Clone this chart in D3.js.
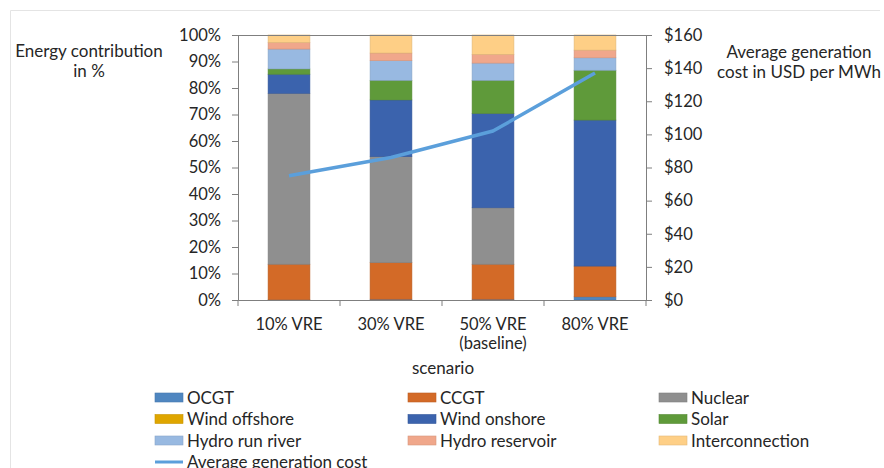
<!DOCTYPE html>
<html>
<head>
<meta charset="utf-8">
<script src="https://cdn.jsdelivr.net/npm/d3@7/dist/d3.min.js"></script>
<style>
  body { margin: 0; background: #fff; }
  svg { display: block; font-family: Lato, "Open Sans", sans-serif; }
</style>
</head>
<body>
<svg id="chart" width="884" height="468"></svg>
<script>
const categories = ["10% VRE", "30% VRE", "50% VRE\n(baseline)", "80% VRE"];
const seriesNames = ["OCGT", "CCGT", "Nuclear", "Wind offshore", "Wind onshore", "Solar", "Hydro run river", "Hydro reservoir", "Interconnection"];
const OCGT = [0.1, 0.3, 0.3, 1.2];
const CCGT = [13.4, 13.8, 13.2, 11.6];
const Nuclear = [64.5, 40.0, 21.3, 0];
const WindOffshore = [0, 0, 0, 0];
const WindOnshore = [7.2, 21.4, 35.6, 55.1];
const Solar = [2.0, 7.4, 12.5, 18.8];
const HydroRunRiver = [7.5, 7.4, 6.5, 4.7];
const HydroReservoir = [2.5, 2.9, 3.3, 2.9];
const Interconnection = [2.8, 6.8, 7.3, 5.7];
const avgCost = [75, 86, 102, 137];
const leftTicks = [0, 10, 20, 30, 40, 50, 60, 70, 80, 90, 100];
const rightTicks = [0, 20, 40, 60, 80, 100, 120, 140, 160];

const seriesValues = [OCGT, CCGT, Nuclear, WindOffshore, WindOnshore, Solar, HydroRunRiver, HydroReservoir, Interconnection];
const colors = ["#4F86C0", "#D36A27", "#8F8F8F", "#DFA600", "#3B63AD", "#5F9A3A", "#98B9E1", "#F0A78B", "#FECF86"];
const lineColor = "#5B9FDB";

(function () {
const svg = d3.select("#chart");
const pl = 238, pr = 646, pt = 35, pb = 300;
const axisColor = "#7f7f7f";
const textColor = "#262626";
const tickFont = "16.5px";
const titleFont = "17px";

svg.append("path")
  .attr("d", `M10.5,468 V10.5 H880`)
  .attr("fill", "none").attr("stroke", "#e4e4e4").attr("stroke-width", 1);

const x = d3.scaleBand().domain(categories).range([pl, pr]).paddingInner(0.59).paddingOuter(0.295);
const xOuter = d3.scaleBand().domain(categories).range([pl, pr]);
const y = d3.scaleLinear().domain([0, 100]).range([pb, pt]);
const y2 = d3.scaleLinear().domain([0, 160]).range([pb, pt]);

const table = categories.map((c, i) => {
  const row = { cat: c };
  seriesNames.forEach((s, j) => row[s] = seriesValues[j][i]);
  return row;
});
const stack = d3.stack().keys(seriesNames)(table);

const g = svg.append("g");
stack.forEach((layer, j) => {
  g.selectAll(null).data(layer.filter(d => d[1] - d[0] > 0)).enter().append("rect")
    .attr("x", d => x(d.data.cat))
    .attr("width", x.bandwidth())
    .attr("y", d => y(d[1]))
    .attr("height", d => Math.max(0, y(d[0]) - y(d[1])))
    .attr("fill", colors[j])
    .attr("stroke", d3.color(colors[j]).darker(0.35))
    .attr("stroke-width", 0.6);
});

svg.append("line").attr("x1", pl).attr("x2", pr).attr("y1", pt + 0.5).attr("y2", pt + 0.5)
  .attr("stroke", axisColor).attr("stroke-width", 1);

const la = svg.append("g").attr("transform", `translate(${pl},0)`)
  .call(d3.axisLeft(y).tickValues(leftTicks).tickFormat(d => d + "%").tickSize(6).tickPadding(11));
const ra = svg.append("g").attr("transform", `translate(${pr},0)`)
  .call(d3.axisRight(y2).tickValues(rightTicks).tickFormat(d => "$" + d).tickSize(6).tickPadding(12));
const ba = svg.append("g").attr("transform", `translate(0,${pb})`)
  .call(d3.axisBottom(xOuter).tickValues([]).tickSize(0));
const bTicks = categories.map(c => xOuter(c)).concat([pr]);
ba.selectAll(".bt").data(bTicks).enter().append("line")
  .attr("x1", d => d).attr("x2", d => d).attr("y1", 0).attr("y2", 6)
  .attr("stroke", axisColor);

[la, ra, ba].forEach(a => {
  a.selectAll("path.domain").attr("stroke", axisColor);
  a.selectAll(".tick line").attr("stroke", axisColor);
  a.selectAll("text").attr("fill", textColor).style("font-size", tickFont).style("font-family", "Lato, sans-serif");
});

categories.forEach(c => {
  const lines = c.split("\n");
  const cx = xOuter(c) + xOuter.bandwidth() / 2;
  const t = svg.append("text").attr("x", cx).attr("y", 330)
    .attr("text-anchor", "middle").attr("fill", textColor).style("font-size", tickFont);
  lines.forEach((l, i) => t.append("tspan").attr("x", cx).attr("dy", i ? 19 : 0).text(l));
});

svg.append("text").attr("x", 443).attr("y", 374).attr("text-anchor", "middle").attr("fill", textColor)
  .style("font-size", titleFont).text("scenario");
const lt = svg.append("text").attr("text-anchor", "middle").attr("fill", textColor).style("font-size", titleFont);
lt.append("tspan").attr("x", 89).attr("y", 57).text("Energy contribution");
lt.append("tspan").attr("x", 89).attr("y", 77).text("in %");
const rt = svg.append("text").attr("text-anchor", "middle").attr("fill", textColor).style("font-size", titleFont);
rt.append("tspan").attr("x", 799).attr("y", 58).text("Average generation");
rt.append("tspan").attr("x", 799).attr("y", 78).text("cost in USD per MWh");

const line = d3.line().x((d, i) => x(categories[i]) + x.bandwidth() / 2).y(d => y2(d));
svg.append("path").datum(avgCost).attr("d", line).attr("fill", "none")
  .attr("stroke", lineColor).attr("stroke-width", 3.5).attr("stroke-linejoin", "round");

const colX = [155, 408, 659];
const rowY = [397.5, 419, 440.5, 462];
seriesNames.forEach((s, j) => {
  const cx = colX[j % 3], cy = rowY[Math.floor(j / 3)];
  svg.append("rect").attr("x", cx).attr("y", cy - 4.5).attr("width", 28).attr("height", 9)
    .attr("fill", colors[j]).attr("stroke", d3.color(colors[j]).darker(0.3)).attr("stroke-width", 0.6);
  svg.append("text").attr("x", cx + 32).attr("y", cy + 6).attr("fill", textColor)
    .style("font-size", titleFont).text(s);
});
svg.append("line").attr("x1", colX[0]).attr("x2", colX[0] + 28).attr("y1", rowY[3]).attr("y2", rowY[3])
  .attr("stroke", lineColor).attr("stroke-width", 3);
svg.append("text").attr("x", colX[0] + 32).attr("y", rowY[3] + 6).attr("fill", textColor)
  .style("font-size", titleFont).text("Average generation cost");
})();
</script>
</body>
</html>
